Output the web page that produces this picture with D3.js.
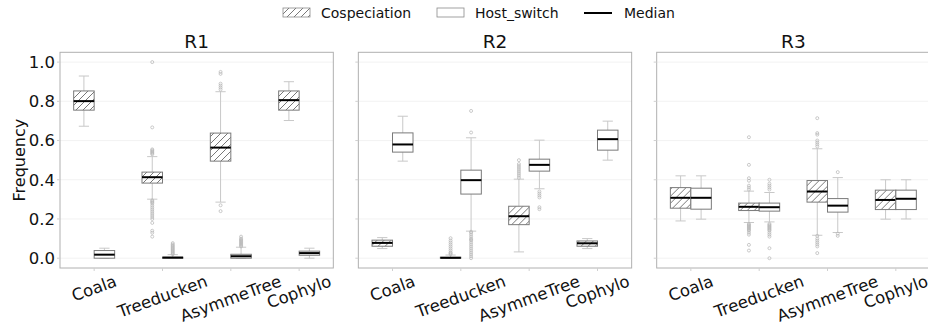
<!DOCTYPE html>
<html>
<head>
<meta charset="utf-8">
<script src="https://cdn.jsdelivr.net/npm/d3@7"></script>
<style>
body { margin: 0; background: #fff; }
svg { font-family: "DejaVu Sans", sans-serif; display: block; }
</style>
</head>
<body>
<svg id="chart"></svg>
<script>
var regions = ["R1", "R2", "R3"];
var methods = ["Coala", "Treeducken", "AsymmeTree", "Cophylo"];
var events = ["Cospeciation", "Host_switch"];
var yTicks = [0.0, 0.2, 0.4, 0.6, 0.8, 1.0];

// [low whisker, q1, median, q3, high whisker] per method
var r1Cosp = [[0.673, 0.755, 0.801, 0.853, 0.929], [0.301, 0.383, 0.413, 0.439, 0.518], [0.286, 0.495, 0.564, 0.638, 0.849], [0.702, 0.755, 0.806, 0.853, 0.900]];
var r1Host = [[0.0, 0.0, 0.018, 0.039, 0.051], [0.0, 0.0, 0.003, 0.005, 0.018], [0.0, 0.0, 0.010, 0.020, 0.056], [0.0, 0.015, 0.026, 0.036, 0.051]];
var r2Cosp = [[0.049, 0.061, 0.078, 0.092, 0.105], [0.0, 0.0, 0.002, 0.005, 0.016], [0.032, 0.171, 0.214, 0.265, 0.403], [0.049, 0.061, 0.076, 0.088, 0.100]];
var r2Host = [[0.495, 0.541, 0.580, 0.639, 0.724], [0.138, 0.327, 0.398, 0.449, 0.614], [0.354, 0.444, 0.476, 0.505, 0.602], [0.500, 0.551, 0.607, 0.653, 0.699]];
var r3Cosp = [[0.190, 0.255, 0.308, 0.360, 0.420], [0.182, 0.243, 0.262, 0.281, 0.342], [0.117, 0.286, 0.340, 0.396, 0.558], [0.199, 0.248, 0.297, 0.347, 0.400]];
var r3Host = [[0.199, 0.250, 0.308, 0.357, 0.420], [0.185, 0.240, 0.260, 0.281, 0.335], [0.131, 0.235, 0.268, 0.304, 0.411], [0.200, 0.248, 0.303, 0.347, 0.400]];

// outliers per method
var r1CospOut = [[], [1.0, 0.667, 0.555, 0.55, 0.545, 0.54, 0.535, 0.53, 0.295, 0.29, 0.285, 0.28, 0.27, 0.26, 0.25, 0.24, 0.23, 0.22, 0.21, 0.2, 0.18, 0.14, 0.13, 0.11], [0.95, 0.94, 0.89, 0.88, 0.87, 0.86, 0.27, 0.24], []];
var r1HostOut = [[], [0.077, 0.07, 0.065, 0.06, 0.055, 0.05, 0.045, 0.04, 0.035, 0.03, 0.025, 0.02], [0.11, 0.1, 0.095, 0.09, 0.085, 0.08, 0.075, 0.07, 0.065, 0.06], []];
var r2CospOut = [[], [0.102, 0.09, 0.08, 0.07, 0.06, 0.05, 0.04, 0.03, 0.025, 0.02], [0.5, 0.48, 0.47, 0.46, 0.45, 0.44, 0.43, 0.42, 0.41], []];
var r2HostOut = [[], [0.751, 0.641, 0.135, 0.13, 0.12, 0.11, 0.1, 0.095, 0.09, 0.08, 0.07, 0.06, 0.05, 0.04, 0.03, 0.02, 0.01, 0.0], [0.34, 0.33, 0.32, 0.31, 0.26, 0.25], []];
var r3CospOut = [[], [0.617, 0.476, 0.408, 0.395, 0.37, 0.36, 0.35, 0.175, 0.17, 0.165, 0.16, 0.155, 0.15, 0.145, 0.14, 0.13, 0.12, 0.068, 0.039], [0.714, 0.638, 0.63, 0.6, 0.59, 0.58, 0.57, 0.114, 0.1, 0.09, 0.08, 0.07, 0.06, 0.026], []];
var r3HostOut = [[], [0.4, 0.38, 0.37, 0.36, 0.35, 0.175, 0.17, 0.165, 0.16, 0.155, 0.15, 0.145, 0.14, 0.13, 0.12, 0.11, 0.051, 0.0], [0.439, 0.125, 0.114], []];

var cospStats = [r1Cosp, r2Cosp, r3Cosp];
var hostStats = [r1Host, r2Host, r3Host];
var cospOut = [r1CospOut, r2CospOut, r3CospOut];
var hostOut = [r1HostOut, r2HostOut, r3HostOut];

var screen = { width: 928, height: 327 };
var margins = { top: 52.3, bottom: 59, left: 60, right: -2 };

var svg = d3.select("#chart")
  .attr("width", screen.width)
  .attr("height", screen.height);

// hatch pattern
var defs = svg.append("defs");
defs.append("pattern")
  .attr("id", "hatch")
  .attr("patternUnits", "userSpaceOnUse")
  .attr("width", 7)
  .attr("height", 7)
  .append("path")
  .attr("d", "M-1,1 l2,-2 M0,7 l7,-7 M6,8 l2,-2")
  .attr("stroke", "#555")
  .attr("stroke-width", 0.8);

var panelScale = d3.scaleBand()
  .domain(regions)
  .range([margins.left, screen.width - margins.right])
  .paddingInner(25 / 298);

var yScale = d3.scaleLinear()
  .domain([-0.05, 1.05])
  .range([screen.height - margins.bottom, margins.top]);

var xScale = d3.scaleBand()
  .domain(methods)
  .range([0, panelScale.bandwidth()]);

var hueScale = d3.scaleBand()
  .domain(events)
  .range([-xScale.bandwidth() * 0.3, xScale.bandwidth() * 0.3]);

var plotTop = yScale.range()[1], plotBottom = yScale.range()[0];

var drawBox = function(g, stats, outliers, ev) {
  var bw = hueScale.bandwidth();
  methods.forEach(function(m, i) {
    var s = stats[i];
    var cx = xScale(m) + xScale.bandwidth() / 2;
    var x0 = cx + hueScale(ev);
    var mid = x0 + bw / 2;
    var b = g.append("g");
    // whiskers
    b.append("line").attr("x1", mid).attr("x2", mid)
      .attr("y1", yScale(s[3])).attr("y2", yScale(s[4]))
      .attr("stroke", "#c8c8c8").attr("stroke-width", 1);
    b.append("line").attr("x1", mid).attr("x2", mid)
      .attr("y1", yScale(s[1])).attr("y2", yScale(s[0]))
      .attr("stroke", "#c8c8c8").attr("stroke-width", 1);
    [s[0], s[4]].forEach(function(v) {
      b.append("line").attr("x1", mid - bw / 4).attr("x2", mid + bw / 4)
        .attr("y1", yScale(v)).attr("y2", yScale(v))
        .attr("stroke", "#c8c8c8").attr("stroke-width", 1);
    });
    // outliers
    b.selectAll("circle")
      .data(outliers[i])
      .enter()
      .append("circle")
      .attr("cx", mid)
      .attr("cy", function(d) { return yScale(d); })
      .attr("r", 1.5)
      .attr("fill", "none")
      .attr("stroke", "#b4b4b4")
      .attr("stroke-width", 0.7);
    // box
    b.append("rect")
      .attr("x", x0)
      .attr("width", bw)
      .attr("y", yScale(s[3]))
      .attr("height", Math.max(0.5, yScale(s[1]) - yScale(s[3])))
      .attr("fill", ev == "Cospeciation" ? "url(#hatch)" : "#fff")
      .attr("stroke", "#7a7a7a")
      .attr("stroke-width", 1);
    // median
    b.append("line").attr("x1", x0).attr("x2", x0 + bw)
      .attr("y1", yScale(s[2])).attr("y2", yScale(s[2]))
      .attr("stroke", "#000").attr("stroke-width", 2);
  });
};

regions.forEach(function(r, p) {
  var g = svg.append("g")
    .attr("transform", "translate(" + panelScale(r) + ",0)");
  var w = panelScale.bandwidth();

  // grid
  g.selectAll(".grid")
    .data(yTicks)
    .enter()
    .append("line")
    .attr("x1", 0).attr("x2", w)
    .attr("y1", function(d) { return yScale(d); })
    .attr("y2", function(d) { return yScale(d); })
    .attr("stroke", "#efefef")
    .attr("stroke-width", 0.8);

  // frame
  g.append("rect")
    .attr("x", 0).attr("y", plotTop)
    .attr("width", w).attr("height", plotBottom - plotTop)
    .attr("fill", "none")
    .attr("stroke", "#b0b0b0")
    .attr("stroke-width", 1);

  // y ticks
  g.selectAll(".ytick")
    .data(yTicks)
    .enter()
    .append("line")
    .attr("x1", -3).attr("x2", 0)
    .attr("y1", function(d) { return yScale(d); })
    .attr("y2", function(d) { return yScale(d); })
    .attr("stroke", "#d0d0d0");
  if (p == 0) {
    g.selectAll(".ylab")
      .data(yTicks)
      .enter()
      .append("text")
      .attr("x", -5)
      .attr("y", function(d) { return yScale(d); })
      .attr("dy", "0.36em")
      .attr("text-anchor", "end")
      .attr("font-size", "16.5px")
      .attr("fill", "#111")
      .text(function(d) { return d.toFixed(1); });
  }

  // x ticks and labels
  methods.forEach(function(m) {
    var cx = xScale(m) + xScale.bandwidth() / 2;
    g.append("line")
      .attr("x1", cx).attr("x2", cx)
      .attr("y1", plotBottom).attr("y2", plotBottom + 3)
      .attr("stroke", "#d0d0d0");
    var t = g.append("text")
      .attr("text-anchor", "middle")
      .attr("dominant-baseline", "central")
      .attr("font-size", "16.5px")
      .attr("fill", "#111")
      .text(m);
    var tw = t.node().getComputedTextLength();
    var th = 16;
    var a = 20 * Math.PI / 180;
    var bh = tw * Math.sin(a) + th * Math.cos(a);
    t.attr("transform", "translate(" + cx + "," + (plotBottom + 5 + bh / 2) + ") rotate(-20)");
  });

  // title
  g.append("text")
    .attr("x", w / 2)
    .attr("y", 47.5)
    .attr("text-anchor", "middle")
    .attr("font-size", "18.5px")
    .attr("fill", "#111")
    .text(r);

  drawBox(g, cospStats[p], cospOut[p], "Cospeciation");
  drawBox(g, hostStats[p], hostOut[p], "Host_switch");
});

// y label
svg.append("text")
  .attr("transform", "translate(25," + ((plotTop + plotBottom) / 2) + ") rotate(-90)")
  .attr("text-anchor", "middle")
  .attr("font-size", "16px")
  .attr("fill", "#111")
  .text("Frequency");

// legend
var legend = svg.append("g").attr("transform", "translate(283,0)");
var legendX = [0, 154, 301];
events.forEach(function(ev, i) {
  legend.append("rect")
    .attr("x", legendX[i]).attr("y", 8)
    .attr("width", 27).attr("height", 9)
    .attr("fill", ev == "Cospeciation" ? "url(#hatch)" : "#fff")
    .attr("stroke", "#8a8a8a")
    .attr("stroke-width", 0.8);
  legend.append("text")
    .attr("x", legendX[i] + 38).attr("y", 18)
    .attr("font-size", "14px")
    .attr("fill", "#111")
    .text(ev);
});
legend.append("line")
  .attr("x1", legendX[2]).attr("x2", legendX[2] + 28)
  .attr("y1", 13).attr("y2", 13)
  .attr("stroke", "#000").attr("stroke-width", 2);
legend.append("text")
  .attr("x", legendX[2] + 40).attr("y", 18)
  .attr("font-size", "14px")
  .attr("fill", "#111")
  .text("Median");
</script>
</body>
</html>
